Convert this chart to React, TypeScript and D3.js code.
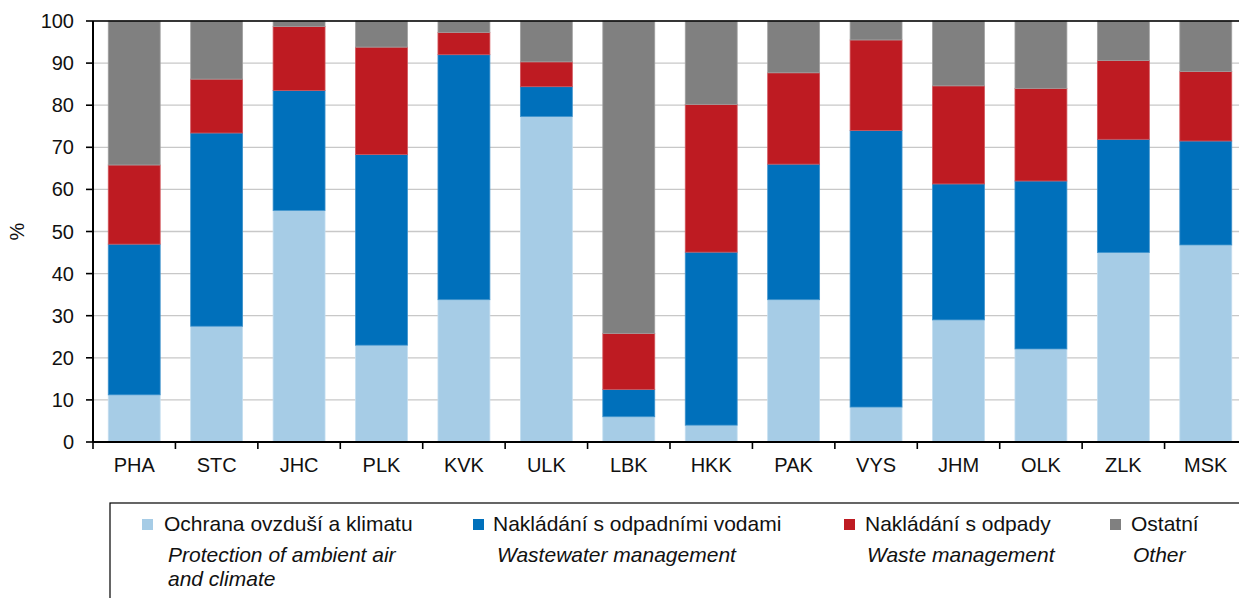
import React from "react";
import * as d3 from "d3";

const regions = ["PHA", "STC", "JHC", "PLK", "KVK", "ULK", "LBK", "HKK", "PAK", "VYS", "JHM", "OLK", "ZLK", "MSK"];
const air = [11.2, 27.5, 55.0, 23.0, 33.8, 77.3, 6.0, 4.0, 33.8, 8.3, 29.0, 22.1, 45.0, 46.8];
const water = [35.8, 45.9, 28.5, 45.3, 58.2, 7.1, 6.5, 41.1, 32.2, 65.7, 32.3, 39.9, 26.9, 24.7];
const waste = [18.8, 12.8, 15.2, 25.5, 5.3, 5.9, 13.3, 35.1, 21.7, 21.5, 23.3, 22.0, 18.7, 16.5];
const other = [34.2, 13.8, 1.3, 6.2, 2.7, 9.7, 74.2, 19.8, 12.3, 4.5, 15.4, 16.0, 9.4, 12.0];
const yTicks = [0, 10, 20, 30, 40, 50, 60, 70, 80, 90, 100];

const seriesKeys = ["air", "water", "waste", "other"];
const seriesColors = ["#a6cce6", "#0070bb", "#be1b22", "#808080"];
const seriesStroke = ["#c4def0", "#3f93cc", "#d2555b", "#a0a0a0"];
const legendCz = ["Ochrana ovzduší a klimatu", "Nakládání s odpadními vodami", "Nakládání s odpady", "Ostatní"];
const legendEn = [["Protection of ambient air", "and climate"], ["Wastewater management"], ["Waste management"], ["Other"]];

const W = 1239, H = 598;
const left = 93, top = 21, bottom = 442;
const plotRight = 1247;
const FONT = "'Liberation Sans', Arial, Helvetica, sans-serif";

export default function App() {
  const rows = regions.map((r, i) => ({ r, air: air[i], water: water[i], waste: waste[i], other: other[i] }));
  const stack = d3.stack<any>().keys(seriesKeys)(rows);
  const x = d3.scaleBand().domain(regions).range([left, plotRight]).paddingInner(0.37).paddingOuter(0.185);
  const y = d3.scaleLinear().domain([0, 100]).range([bottom, top]);
  const step = x.step();

  const legendSquareX = [142, 473, 844, 1110];
  const legendTextX = [164, 493, 865, 1131];
  const legendEnX = [168, 497, 867, 1133];

  return (
    <svg width={W} height={H} style={{ position: "absolute", left: 0, top: 0, display: "block" }} fontFamily={FONT}>
      <rect x={0} y={0} width={W} height={H} fill="#fff" />
      {yTicks.map((t) => (
        <line key={"g" + t} x1={left} x2={plotRight} y1={y(t)} y2={y(t)} stroke="#c8c8c8" strokeWidth={1.3} />
      ))}
      {stack.map((s, si) =>
        s.map((d, i) => (
          <rect
            key={si + "-" + i}
            x={x(regions[i])!}
            width={x.bandwidth()}
            y={y(d[1])}
            height={Math.max(0, y(d[0]) - y(d[1]))}
            fill={seriesColors[si]}
            stroke={seriesStroke[si]}
            strokeWidth={0.8}
          />
        ))
      )}
      <line x1={left} x2={plotRight} y1={top} y2={top} stroke="#000" strokeWidth={1.6} />
      <line x1={left} x2={left} y1={top} y2={bottom} stroke="#000" strokeWidth={2} />
      <line x1={left} x2={plotRight} y1={bottom} y2={bottom} stroke="#000" strokeWidth={2} />
      {yTicks.map((t) => (
        <g key={"t" + t}>
          <line x1={left - 7} x2={left} y1={y(t)} y2={y(t)} stroke="#000" strokeWidth={1.6} />
          <text x={left - 19} y={y(t)} dy="0.35em" textAnchor="end" fontSize={20} fill="#111">{t}</text>
        </g>
      ))}
      {regions.map((r, i) => (
        <g key={"x" + r}>
          <line x1={left + i * step} x2={left + i * step} y1={bottom} y2={bottom + 7} stroke="#000" strokeWidth={1.6} />
          <text x={x(r)! + x.bandwidth() / 2} y={bottom + 30} textAnchor="middle" fontSize={20} fill="#111">{r}</text>
        </g>
      ))}
      <text transform={`translate(24,${(top + bottom) / 2}) rotate(-90)`} textAnchor="middle" fontSize={20} fill="#111">%</text>

      <rect x={110} y={503} width={1200} height={200} fill="none" stroke="#000" strokeWidth={1.2} />
      {seriesKeys.map((k, i) => (
        <g key={"l" + k}>
          <rect x={legendSquareX[i]} y={519} width={11} height={11} fill={seriesColors[i]} />
          <text x={legendTextX[i]} y={531} fontSize={21} fill="#111">{legendCz[i]}</text>
          {legendEn[i].map((line, j) => (
            <text key={j} x={legendEnX[i]} y={562 + j * 24} fontSize={21} fontStyle="italic" fill="#111">{line}</text>
          ))}
        </g>
      ))}
    </svg>
  );
}
